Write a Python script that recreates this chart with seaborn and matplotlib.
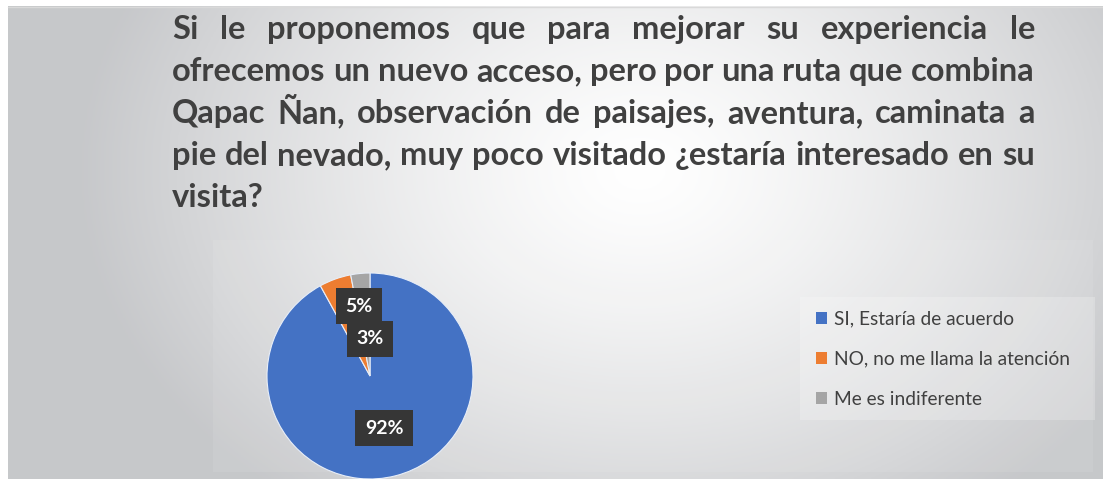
import numpy as np
import matplotlib
matplotlib.use('Agg')
import matplotlib.pyplot as plt
import seaborn as sns

# datos de la encuesta
categorias = ['SI, Estaría de acuerdo', 'NO, no me llama la atención', 'Me es indiferente']
porcentajes = [92, 5, 3]
colores = ['#4472C4', '#ED7D31', '#A5A5A5']

titulo_lineas = [
    'Si le proponemos que para mejorar su experiencia le',
    'ofrecemos un nuevo acceso, pero por una ruta que combina',
    'Qapac Ñan, observación de paisajes, aventura, caminata a',
    'pie del nevado, muy poco visitado ¿estaría interesado en su',
    'visita?',
]

sns.set_style('white')
plt.rcParams['font.family'] = ['Lato', 'DejaVu Sans']

W, H = 1103, 479
fig = plt.figure(figsize=(W / 100, H / 100), dpi=100)
ax = fig.add_axes([0, 0, 1, 1])
ax.set_xlim(0, W)
ax.set_ylim(H, 0)
ax.axis('off')

# fondo degradado
xx, yy = np.meshgrid(np.linspace(8, W, 400), np.linspace(6, H, 200))
t = np.sqrt(((xx - 640) / 560) ** 2 + ((yy - 170) / 420) ** 2)
t = np.clip(t, 0, 1) ** 1.3
gris = np.array([0.78, 0.785, 0.795])
img = (1 - t[..., None]) * 1.0 + t[..., None] * gris
ax.imshow(img, extent=[8, W, H, 6], aspect='auto', zorder=0)
ax.plot([8, W], [6.5, 6.5], color='#d9d9d9', lw=1, zorder=1)
# area del grafico y caja de leyenda mas claras
ax.add_patch(plt.Rectangle((213, 240), 880, 232, color='white', alpha=0.08, lw=0, zorder=1))
ax.add_patch(plt.Rectangle((800, 297), 295, 123, color='white', alpha=0.22, lw=0, zorder=1))

# titulo justificado
fig.canvas.draw()
renderer = fig.canvas.get_renderer()
inv = ax.transData.inverted()


def ancho(tx):
    bb = tx.get_window_extent(renderer)
    a = inv.transform([[bb.x0, 0], [bb.x1, 0]])
    return a[1, 0] - a[0, 0]


x0, x1 = 172, 1035
# tamaño tal que la linea 2 ocupe el ancho completo con espacios normales
prueba = ax.text(0, 0, titulo_lineas[1], fontsize=20, fontweight='bold')
fs = 20 * (x1 - x0) / ancho(prueba)
prueba.remove()

for i, linea in enumerate(titulo_lineas):
    y = 39 + 42 * i
    palabras = linea.split(' ')
    textos = [ax.text(0, y, p, fontsize=fs, fontweight='bold', color='#404040',
                      va='baseline', ha='left', zorder=5) for p in palabras]
    anchos = [ancho(tx) for tx in textos]
    if i < len(titulo_lineas) - 1 and len(palabras) > 1:
        hueco = (x1 - x0 - sum(anchos)) / (len(palabras) - 1)
    else:
        hueco = 7
    x = x0
    for tx, a in zip(textos, anchos):
        tx.set_x(x)
        x += a + hueco

# pastel
cx, cy, r = 370, 376, 103
pax = fig.add_axes([(cx - r) / W, (H - cy - r) / H, 2 * r / W, 2 * r / H])
wedges, _ = pax.pie(porcentajes, colors=colores, startangle=90, counterclock=False,
                    wedgeprops=dict(linewidth=0.8, edgecolor='#e8eef8'))
pax.set_xlim(-1, 1)
pax.set_ylim(-1, 1)
pax.axis('off')

# etiquetas de datos (posicion en pixeles, como en el original)
pos_etiquetas = [(384, 428), (359, 306), (370, 339)]
for (px, py), v in zip(pos_etiquetas, porcentajes):
    pax.text(px, py, f'{v}%', transform=ax.transData, fontsize=14, fontweight='bold',
             color='white', ha='center', va='center', zorder=6, clip_on=False,
             bbox=dict(boxstyle='square,pad=0.5', fc='#363636', ec='none'))

leg = fig.legend(wedges, categorias, loc='upper left', bbox_to_anchor=(806 / W, 1 - 301 / H),
                 frameon=False, fontsize=13.8, labelcolor='#404040', handlelength=0.6,
                 handleheight=0.6, handletextpad=0.35, labelspacing=1.2, borderpad=0)
for h in leg.legend_handles:
    h.set_edgecolor('none')

fig.savefig('out.png', dpi=100)
